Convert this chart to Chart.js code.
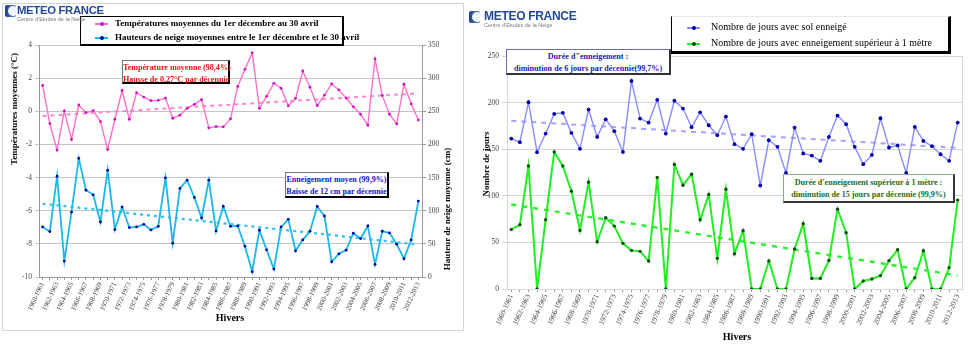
<!DOCTYPE html>
<html>
<head>
<meta charset="utf-8">
<script src="https://cdn.jsdelivr.net/npm/chart.js@4/dist/chart.umd.min.js"></script>
<style>
  body { margin: 0; width: 968px; height: 348px; background: #fff; position: relative; overflow: hidden; font-family: "Liberation Serif", serif; }
  canvas { position: absolute; top: 0; z-index: 1; }
  .box { position: absolute; background: #fff; box-sizing: border-box; z-index: 2; }
  .row { position: absolute; white-space: nowrap; z-index: 3; }
  .mk { position: absolute; height: 2px; width: 13px; z-index: 3; }
  .mk i { position: absolute; left: 5px; top: -1px; width: 4px; height: 4px; border-radius: 2px; }
  .ann { position: absolute; z-index: 3; background: #fff; box-sizing: border-box; font-weight: bold; font-size: 8.1px; text-align: center; line-height: 11.5px; padding-top: 1px; white-space: nowrap; }
  .vt { position: absolute; z-index: 3; white-space: nowrap; font-weight: bold; font-size: 9px; transform: translate(-50%, -50%) rotate(-90deg); }
  .ht { position: absolute; z-index: 3; white-space: nowrap; font-weight: bold; font-size: 10px; transform: translate(-50%, -50%); }
  .logo { position: absolute; z-index: 3; font-family: "Liberation Sans", Arial, sans-serif; }
  .logo b { display: block; color: #22489c; letter-spacing: -0.3px; line-height: 11px; }
  .logo span { display: block; color: #777; font-size: 5.5px; line-height: 7px; }
  .ico { position: absolute; z-index: 3; width: 11px; height: 12px; border-radius: 2px; background: linear-gradient(90deg, #1d3f8f, #5b8fd0); overflow: hidden; }
  .ico::after { content: ""; position: absolute; left: 3px; top: 1px; width: 10px; height: 10px; border-radius: 50%; background: #f2f6fc; }
</style>
</head>
<body>

<div class="box" style="left:2px;top:3px;width:462px;height:328px;border:1px solid #d4d4d4;z-index:0;"></div>

<canvas id="leftChart" width="466" height="348" style="left:0"></canvas>
<canvas id="rightChart" width="502" height="348" style="left:466px"></canvas>

<!-- logos -->
<div class="ico" style="left:5px;top:5px"></div>
<div class="logo" style="left:17px;top:5px"><b style="font-size:11.3px">METEO FRANCE</b><span>Centre d'Etudes de la Neige</span></div>
<div class="ico" style="left:469px;top:11px"></div>
<div class="logo" style="left:484px;top:11px"><b style="font-size:12px">METEO FRANCE</b><span>Centre d'Etudes de la Neige</span></div>

<!-- left legend -->
<div class="box" style="left:80px;top:16px;width:264px;height:30px;border:1px solid #000;border-right-width:2px;border-bottom-width:2px;"></div>
<div class="mk" style="left:95px;top:23px;background:#ff70c8"><i style="background:#cc11cc"></i></div>
<div class="row" style="left:115px;top:18px;font-weight:bold;font-size:9px;">Températures moyennes du 1er décembre au 30 avril</div>
<div class="mk" style="left:95px;top:37px;background:#1ab8ea"><i style="background:#000099"></i></div>
<div class="row" style="left:115px;top:32px;font-weight:bold;font-size:9px;">Hauteurs de neige moyennes entre le 1er décembre et le 30 avril</div>

<!-- right legend -->
<div class="box" style="left:671px;top:16px;width:280px;height:38px;border:1px solid #000;border-top-color:#e8e8e8;border-right-width:3px;border-bottom-width:3px;"></div>
<div class="mk" style="left:687px;top:27px;background:#8a8aff"><i style="background:#0000aa"></i></div>
<div class="row" style="left:711px;top:21px;font-size:10px;">Nombre de jours avec sol enneigé</div>
<div class="mk" style="left:687px;top:43px;background:#22ee22"><i style="background:#0b4d0b"></i></div>
<div class="row" style="left:711px;top:37px;font-size:10px;">Nombre de jours avec enneigement supérieur à 1 mètre</div>

<!-- annotations -->
<div class="ann" style="left:122px;top:60px;width:108px;height:24px;border:1px solid #777;border-right:2px solid #000;border-bottom:2px solid #000;color:#ee1111;">Température moyenne (98,4%)<br>Hausse de 0.27°C par décennie</div>
<div class="ann" style="left:285px;top:172px;width:104px;height:26px;border:1px solid #777;border-right:2px solid #000;border-bottom:2px solid #000;color:#1414c8;">Enneigement moyen (99,9%)<br>Baisse de 12 cm par décennie</div>
<div class="ann" style="left:506px;top:49px;width:165px;height:26px;border:1px solid #6b6bb8;border-right:2px solid #333;border-bottom:2px solid #333;color:#1a1ab8;">Durée d"enneigement :<br>diminution de 6 jours par décennie(99,7%)</div>
<div class="ann" style="left:783px;top:174px;width:172px;height:29px;border:1px solid #8aa88a;border-right:2px solid #333;border-bottom:2px solid #333;color:#1f6b1f;line-height:11.5px;padding-top:2px;">Durée d'enneigement supérieur à 1 mètre :<br>diminution de 15 jours par décennie (99,9%)</div>

<!-- axis titles -->
<div class="vt" style="left:14px;top:109px;">Températures moyennes (°C)</div>
<div class="vt" style="left:447px;top:209px;">Hauteur de neige moyenne (cm)</div>
<div class="vt" style="left:486px;top:164px;">Nombre de jours</div>
<div class="ht" style="left:230px;top:317px;">Hivers</div>
<div class="ht" style="left:737px;top:336px;">Hivers</div>

<script>
const winters = [
  "1960-1961", "1961-1962", "1962-1963", "1963-1964", "1964-1965", "1965-1966",
  "1966-1967", "1967-1968", "1968-1969", "1969-1970", "1970-1971", "1971-1972",
  "1972-1973", "1973-1974", "1974-1975", "1975-1976", "1976-1977", "1977-1978",
  "1978-1979", "1979-1980", "1980-1981", "1981-1982", "1982-1983", "1983-1984",
  "1984-1985", "1985-1986", "1986-1987", "1987-1988", "1988-1989", "1989-1990",
  "1990-1991", "1991-1992", "1992-1993", "1993-1994", "1994-1995", "1995-1996",
  "1996-1997", "1997-1998", "1998-1999", "1999-2000", "2000-2001", "2001-2002",
  "2002-2003", "2003-2004", "2004-2005", "2005-2006", "2006-2007", "2007-2008",
  "2008-2009", "2009-2010", "2010-2011", "2011-2012", "2012-2013"
];

// temperatures moyennes (degC), axe de gauche
const tempMean = [
  1.56, -0.74, -2.34, 0.02, -1.7, 0.38, -0.08, 0.04, -0.62, -2.3,
  -0.48, 1.26, -0.48, 1.12, 0.86, 0.64, 0.66, 0.8, -0.42, -0.24,
  0.18, 0.42, 0.7, -1.0, -0.92, -0.94, -0.46, 1.5, 2.53, 3.53,
  0.18, 0.9, 1.69, 1.39, 0.33, 0.78, 2.43, 1.45, 0.35, 0.98,
  1.65, 1.29, 0.8, 0.27, -0.18, -0.84, 3.16, 0.96, -0.18, -0.76,
  1.63, 0.45, -0.53
];

// hauteurs de neige moyennes (cm), axe de droite
const snowHeight = [
  75.5, 68.5, 152, 24, 98, 179, 131, 124, 83, 161,
  71.5, 105.5, 74.5, 75.5, 79.5, 71, 76.5, 149.5, 51, 133.5,
  146, 120, 89, 146, 69.5, 106.5, 76.5, 77, 46.5, 8,
  70.5, 41, 12, 75.5, 87, 39.5, 56, 69, 106.5, 92,
  23, 35, 40.5, 66, 58, 77, 19, 69, 66.5, 49.5,
  27.5, 56, 114.5
];

// nombre de jours avec sol enneige
const daysSnow = [
  161.4, 157.5, 200.4, 146.8, 166.8, 187.9, 189, 167.5, 150.4, 192.5,
  163.2, 182.1, 169.3, 147.1, 223.2, 182.9, 178.6, 202.9, 166.8, 202.1,
  193.6, 173.6, 189.6, 175.7, 165, 185, 155.4, 150.4, 166.1, 111.1,
  159.6, 152.5, 124.6, 173.2, 145.4, 143.2, 137.5, 163.2, 186.1, 176.8,
  152.5, 133.9, 143.9, 183.2, 151.8, 154, 124.5, 173.9, 158.9, 153.2,
  144.6, 137.5, 178.6
];

// nombre de jours avec plus de 1 m de neige
const daysOver1m = [
  63.9, 68.9, 132, 0, 74.3, 147, 132, 105, 62.9, 114.6,
  50.7, 76.4, 67.5, 49, 41.4, 40.4, 30, 119.6, 0, 133.6,
  111.4, 123.2, 74.3, 101.4, 32.9, 107, 37.9, 62.5, 0, 0,
  30, 0, 0, 42.9, 70, 11.4, 11.4, 30.7, 85.7, 60.4,
  0, 8.6, 10.7, 14.3, 30.4, 42.1, 0, 12.1, 41, 0,
  0, 22.9, 95.4
];

// tendances : valeur au premier et au dernier hiver
const tempTrend = [-0.28, 1.08];
const snowTrend = [110.5, 49];
const daysSnowTrend = [180.5, 151.4];
const daysOver1mTrend = [90.7, 14.5];

Chart.defaults.font.family = '"Liberation Serif", "Times New Roman", serif';
Chart.defaults.color = "#444";

function trendLine(values) {
  return [
    {x: winters[0], y: values[0]},
    {x: winters[winters.length - 1], y: values[1]},
  ];
}

function everyOther(value, index) {
  return index % 2 === 0 ? this.getLabelForValue(value) : "";
}

const plotFrame = {
  id: "plotFrame",
  beforeDatasetsDraw(chart, args, opts) {
    if (!opts.color) {
      return;
    }
    const {ctx, chartArea} = chart;
    ctx.save();
    ctx.strokeStyle = opts.color;
    ctx.lineWidth = 1;
    ctx.strokeRect(
      Math.round(chartArea.left) + 0.5,
      Math.round(chartArea.top) + 0.5,
      Math.round(chartArea.right - chartArea.left),
      Math.round(chartArea.bottom - chartArea.top)
    );
    ctx.restore();
  },
};

// ---- graphique de gauche : temperatures et hauteurs de neige
new Chart(document.getElementById("leftChart"), {
  type: "line",
  data: {
    labels: winters,
    datasets: [
      {
        label: "Tendance température",
        data: trendLine(tempTrend),
        yAxisID: "yT",
        borderColor: "#ff88cc",
        borderWidth: 2,
        borderDash: [4, 4],
        pointRadius: 0,
        order: 3,
      },
      {
        label: "Tendance neige",
        data: trendLine(snowTrend),
        yAxisID: "yS",
        borderColor: "#2cc0f0",
        borderWidth: 2.2,
        borderDash: [3, 4],
        pointRadius: 0,
        order: 3,
      },
      {
        label: "Températures moyennes du 1er décembre au 30 avril",
        data: tempMean,
        yAxisID: "yT",
        borderColor: "#ff70c8",
        borderWidth: 1.4,
        pointRadius: 1.4,
        pointBackgroundColor: "#cc11cc",
        pointBorderWidth: 0,
        tension: 0,
        order: 1,
      },
      {
        label: "Hauteurs de neige moyennes entre le 1er décembre et le 30 avril",
        data: snowHeight,
        yAxisID: "yS",
        borderColor: "#1ab8ea",
        borderWidth: 1.8,
        pointRadius: 1.4,
        pointBackgroundColor: "#000099",
        pointBorderWidth: 0,
        tension: 0,
        order: 2,
      },
    ],
  },
  options: {
    responsive: false,
    animation: false,
    events: [],
    layout: {padding: {top: 45, left: 0, right: 0, bottom: 0}},
    plugins: {legend: {display: false}, tooltip: {enabled: false}},
    scales: {
      x: {
        offset: true,
        afterFit: (scale) => { scale.height = 71; },
        grid: {display: true, drawOnChartArea: false, tickLength: 3, color: "#999"},
        border: {color: "#999"},
        ticks: {
          autoSkip: false,
          maxRotation: 65,
          minRotation: 65,
          padding: 1,
          font: {size: 7},
          color: "#444",
          callback: everyOther,
        },
      },
      yT: {
        position: "left",
        min: -10,
        max: 4,
        afterFit: (scale) => { scale.width = 39; },
        ticks: {stepSize: 2, font: {size: 7.5}, padding: 3, color: "#444"},
        grid: {color: "#c4c4c4", tickLength: 4},
        border: {color: "#999"},
      },
      yS: {
        position: "right",
        min: 0,
        max: 350,
        afterFit: (scale) => { scale.width = 44; },
        ticks: {stepSize: 50, font: {size: 7.5}, padding: 2, color: "#444"},
        grid: {drawOnChartArea: false, tickLength: 4, color: "#999"},
        border: {color: "#999"},
      },
    },
  },
});

// ---- graphique de droite : nombre de jours
new Chart(document.getElementById("rightChart"), {
  type: "line",
  plugins: [plotFrame],
  data: {
    labels: winters,
    datasets: [
      {
        label: "Tendance sol enneigé",
        data: trendLine(daysSnowTrend),
        borderColor: "#a4a4ff",
        borderWidth: 2,
        borderDash: [5, 5],
        pointRadius: 0,
        order: 3,
      },
      {
        label: "Tendance plus de 1 mètre",
        data: trendLine(daysOver1mTrend),
        borderColor: "#33ee33",
        borderWidth: 2.4,
        borderDash: [5, 6],
        pointRadius: 0,
        order: 3,
      },
      {
        label: "Nombre de jours avec sol enneigé",
        data: daysSnow,
        borderColor: "#8a8aff",
        borderWidth: 1.4,
        pointRadius: 1.9,
        pointBackgroundColor: "#0000aa",
        pointBorderWidth: 0,
        tension: 0,
        order: 1,
      },
      {
        label: "Nombre de jours avec enneigement supérieur à 1 mètre",
        data: daysOver1m,
        borderColor: "#22ee22",
        borderWidth: 2,
        pointRadius: 1.7,
        pointBackgroundColor: "#0b4d0b",
        pointBorderWidth: 0,
        tension: 0,
        order: 2,
      },
    ],
  },
  options: {
    responsive: false,
    animation: false,
    events: [],
    layout: {padding: {top: 56, left: 0, right: 6, bottom: 0}},
    plugins: {
      legend: {display: false},
      tooltip: {enabled: false},
      plotFrame: {color: "#d8d8d8"},
    },
    scales: {
      x: {
        offset: true,
        afterFit: (scale) => { scale.height = 59; },
        grid: {display: true, drawOnChartArea: false, tickLength: 3, color: "#999"},
        border: {color: "#999"},
        ticks: {
          autoSkip: false,
          maxRotation: 66,
          minRotation: 66,
          padding: 1,
          font: {size: 7.5},
          color: "#444",
          callback: everyOther,
        },
      },
      y: {
        position: "left",
        min: 0,
        max: 250,
        afterFit: (scale) => { scale.width = 41; },
        ticks: {stepSize: 50, font: {size: 7.5}, padding: 3, color: "#444"},
        grid: {color: "#d6d6d6", tickLength: 5},
        border: {color: "#999"},
      },
    },
  },
});
</script>
</body>
</html>
